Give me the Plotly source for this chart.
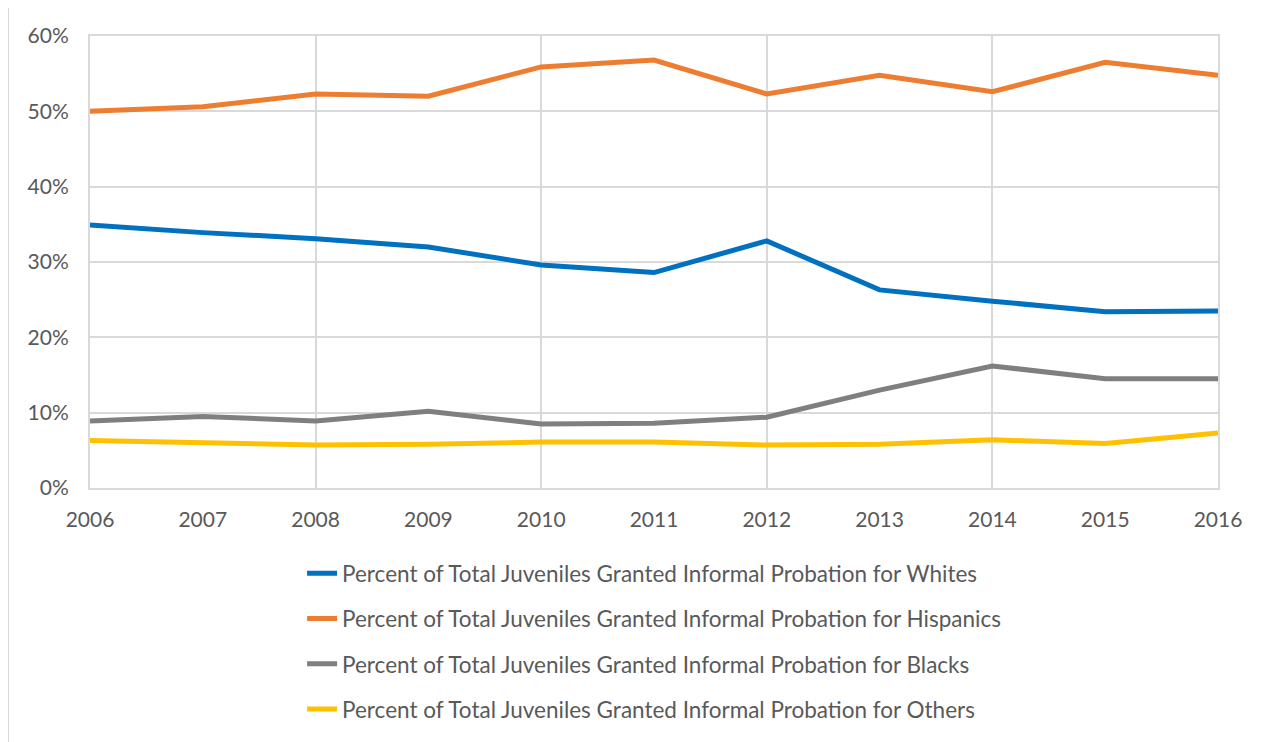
import plotly.graph_objects as go

years = [2006, 2007, 2008, 2009, 2010, 2011, 2012, 2013, 2014, 2015, 2016]
whites = [34.9, 33.9, 33.1, 32.0, 29.6, 28.6, 32.8, 26.3, 24.8, 23.4, 23.5]
hispanics = [50.0, 50.6, 52.3, 52.0, 55.9, 56.8, 52.3, 54.8, 52.6, 56.5, 54.8]
blacks = [8.9, 9.5, 8.9, 10.2, 8.5, 8.6, 9.4, 13.0, 16.2, 14.5, 14.5]
others = [6.3, 6.0, 5.7, 5.8, 6.1, 6.1, 5.7, 5.8, 6.4, 5.9, 7.3]

names = [
    "Percent of Total Juveniles Granted Informal Probation for Whites",
    "Percent of Total Juveniles Granted Informal Probation for Hispanics",
    "Percent of Total Juveniles Granted Informal Probation for Blacks",
    "Percent of Total Juveniles Granted Informal Probation for Others",
]
series = [whites, hispanics, blacks, others]
colors = ["#0070C0", "#ED7D31", "#7F7F7F", "#FFC000"]

GRID = "#D9D9D9"
TXT = "#595959"
FONT = "Lato, Open Sans, sans-serif"

fig = go.Figure()
for i, (nm, vals, c) in enumerate(zip(names, series, colors)):
    fig.add_trace(go.Scatter(
        x=years, y=[v / 100 for v in vals], mode="lines", name=nm,
        line=dict(color=c, width=5), legendgroup=f"g{i}",
    ))

# invisible trace on overlay axis that carries the 2-year vertical gridlines
fig.add_trace(go.Scatter(x=years, y=[v / 100 for v in others], xaxis="x2",
                         mode="lines", line=dict(width=0), showlegend=False,
                         hoverinfo="skip", opacity=0))

fig.update_layout(
    width=1269, height=742,
    paper_bgcolor="white", plot_bgcolor="white",
    margin=dict(l=82, r=59, t=28, b=262),
    font=dict(family=FONT, color=TXT, size=21),
    showlegend=True,
    legend=dict(
        x=0.188, xanchor="left", y=-0.142, yanchor="top",
        font=dict(size=22.5, color=TXT), tracegroupgap=13,
        bgcolor="rgba(0,0,0,0)",
    ),
    xaxis=dict(
        range=[2006, 2016], tickmode="array", tickvals=years,
        ticktext=[str(y) for y in years], showgrid=False,
        showline=True, linecolor=GRID, linewidth=2, mirror=True,
        zeroline=False, ticks="", ticklabelstandoff=12,
        tickfont=dict(size=21, color=TXT),
    ),
    xaxis2=dict(
        overlaying="x", matches="x", range=[2006, 2016], tick0=2006, dtick=2,
        showgrid=True, gridcolor=GRID, gridwidth=2, showticklabels=False,
        zeroline=False, ticks="",
    ),
    yaxis=dict(
        range=[0, 0.6], dtick=0.1, tickformat=".0%", showgrid=True,
        gridcolor=GRID, gridwidth=2, showline=True, linecolor=GRID,
        linewidth=2, mirror=True, zeroline=False, ticks="",
        ticklabelstandoff=15, tickfont=dict(size=21, color=TXT),
    ),
    shapes=[dict(type="rect", xref="paper", yref="paper",
                 x0=-0.0727, x1=1.1, y0=-0.6, y1=1.066,
                 line=dict(color=GRID, width=2), fillcolor="rgba(0,0,0,0)",
                 layer="below")],
)

fig.write_html("out.html")
